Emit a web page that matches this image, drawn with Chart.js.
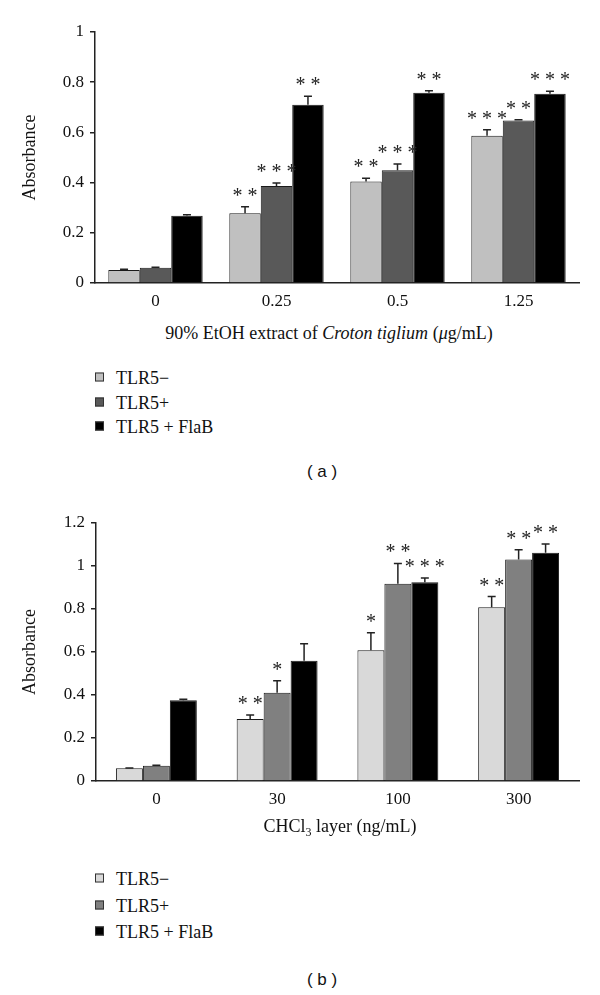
<!DOCTYPE html>
<html lang="en">
<head>
  <meta charset="UTF-8" />
  <title>TLR5 absorbance</title>
  <style>
    body {
      margin: 0;
      background: #fff;
      font-family: "Liberation Serif", serif;
      color: #111;
    }
    .page {
      position: relative;
      width: 600px;
      height: 995px;
    }
    .box {
      position: absolute;
      left: 0;
      width: 600px;
      height: 320px;
    }
    .xtitle {
      position: absolute;
      font-size: 18px;
      white-space: nowrap;
      transform: translate(-50%, -50%);
    }
    .legend {
      position: absolute;
      left: 95px;
      font-size: 18px;
    }
    .legend div {
      position: absolute;
      left: 0;
      white-space: nowrap;
      transform: translateY(-50%);
    }
    .legend span.sw {
      display: inline-block;
      width: 7px;
      height: 7px;
      border: 1px solid #333;
      margin-right: 12px;
      vertical-align: 2px;
    }
    .panel {
      position: absolute;
      font-family: "Liberation Sans", Arial, sans-serif;
      font-size: 17px;
      transform: translate(-50%, -50%);
    }
  </style>
  <script src="https://cdn.jsdelivr.net/npm/chart.js"></script>
</head>
<body>
<div class="page">
  <div class="box" style="top:0"><canvas id="chartA" width="600" height="320"></canvas></div>
  <div class="xtitle" style="left:329px; top:333px">90% EtOH extract of <i>Croton tiglium</i> (<i>μ</i>g/mL)</div>
  <div class="legend" style="top:0">
    <div style="top:378px"><span class="sw" style="background:#c0c0c0"></span>TLR5−</div>
    <div style="top:403px"><span class="sw" style="background:#595959"></span>TLR5+</div>
    <div style="top:427px"><span class="sw" style="background:#000"></span>TLR5 + FlaB</div>
  </div>
  <div class="panel" style="left:322px; top:472px">( a )</div>

  <div class="box" style="top:500px"><canvas id="chartB" width="600" height="320"></canvas></div>
  <div class="xtitle" style="left:340px; top:828px">CHCl<sub style="font-size:12px">3</sub> layer (ng/mL)</div>
  <div class="legend" style="top:0">
    <div style="top:879px"><span class="sw" style="background:#d9d9d9"></span>TLR5−</div>
    <div style="top:906px"><span class="sw" style="background:#808080"></span>TLR5+</div>
    <div style="top:932px"><span class="sw" style="background:#000"></span>TLR5 + FlaB</div>
  </div>
  <div class="panel" style="left:322px; top:980px">( b )</div>
</div>

<script>
  // (a) 90% EtOH extract
  const doseA = ['0', '0.25', '0.5', '1.25'];
  const negA = [0.052, 0.278, 0.404, 0.587];
  const negErrA = [0.003, 0.026, 0.013, 0.024];
  const posA = [0.061, 0.386, 0.449, 0.647];
  const posErrA = [0.002, 0.012, 0.025, 0.003];
  const flaA = [0.268, 0.710, 0.758, 0.754];
  const flaErrA = [0.004, 0.034, 0.008, 0.010];
  const starsNegA = ['', '**', '**', '***'];
  const starsPosA = ['', '***', '***', '**'];
  const starsFlaA = ['', '**', '**', '***'];
  const yTicksA = ['0', '0.2', '0.4', '0.6', '0.8', '1'];

  // (b) CHCl3 layer
  const doseB = ['0', '30', '100', '300'];
  const negB = [0.059, 0.288, 0.608, 0.808];
  const negErrB = [0.001, 0.019, 0.081, 0.050];
  const posB = [0.071, 0.410, 0.918, 1.030];
  const posErrB = [0.002, 0.056, 0.094, 0.046];
  const flaB = [0.376, 0.559, 0.924, 1.062];
  const flaErrB = [0.004, 0.079, 0.020, 0.040];
  const starsNegB = ['', '**', '*', '**'];
  const starsPosB = ['', '*', '**', '**'];
  const starsFlaB = ['', '', '***', '**'];
  const yTicksB = ['0', '0.2', '0.4', '0.6', '0.8', '1', '1.2'];

  Chart.defaults.font.family = '"Liberation Serif", serif';
  Chart.defaults.color = '#111';

  // error bars (upper half only) + significance stars
  const errorStars = {
    id: 'errorStars',
    afterDatasetsDraw(chart) {
      const ctx = chart.ctx;
      const y = chart.scales.y;
      ctx.save();
      chart.data.datasets.forEach((ds, i) => {
        const meta = chart.getDatasetMeta(i);
        meta.data.forEach((bar, j) => {
          const top = y.getPixelForValue(ds.data[j] + ds.errors[j]);
          ctx.strokeStyle = '#222';
          ctx.lineWidth = 1.5;
          ctx.beginPath();
          ctx.moveTo(bar.x, bar.y);
          ctx.lineTo(bar.x, top);
          ctx.moveTo(bar.x - 4, top);
          ctx.lineTo(bar.x + 4, top);
          ctx.stroke();
          const s = ds.stars[j];
          if (s) {
            ctx.fillStyle = '#222';
            ctx.font = '20px "Liberation Serif", serif';
            ctx.textAlign = 'center';
            ctx.textBaseline = 'alphabetic';
            ctx.fillText(s.split('').join(' '), bar.x, top - 5);
          }
        });
      });
      ctx.restore();
    }
  };

  function makeChart(id, labels, sets, ticks, yMax, catPct, plotTop, plotBottom, axisLeft) {
    return new Chart(document.getElementById(id), {
      type: 'bar',
      data: {
        labels: labels,
        datasets: sets.map(s => ({
          label: s.label,
          data: s.data,
          errors: s.errors,
          stars: s.stars,
          backgroundColor: s.color,
          borderColor: '#1a1a1a',
          borderWidth: 1,
          categoryPercentage: catPct,
          barPercentage: 1
        }))
      },
      options: {
        responsive: false,
        animation: false,
        layout: { padding: { top: plotTop, right: 21, left: 0, bottom: 0 } },
        plugins: { legend: { display: false }, tooltip: { enabled: false } },
        scales: {
          x: {
            grid: { display: false },
            border: { display: true, color: '#222', width: 1.5 },
            ticks: { font: { size: 17 }, padding: 0, color: '#111' },
            afterFit: s => { s.height = 320 - plotBottom; }
          },
          y: {
            min: 0,
            max: yMax,
            ticks: {
              stepSize: 0.2,
              font: { size: 17 },
              padding: 6,
              color: '#111',
              callback: (v, i) => ticks[i]
            },
            grid: { drawOnChartArea: false, drawTicks: true, tickLength: 5, color: '#222', lineWidth: 1.5 },
            border: { display: true, color: '#222', width: 1.5 },
            title: { display: true, text: 'Absorbance', font: { size: 18 }, padding: { top: 19 }, color: '#111' },
            afterFit: s => { s.width = axisLeft; }
          }
        }
      },
      plugins: [errorStars]
    });
  }

  makeChart('chartA', doseA, [
    { label: 'TLR5−', data: negA, errors: negErrA, stars: starsNegA, color: '#c0c0c0' },
    { label: 'TLR5+', data: posA, errors: posErrA, stars: starsPosA, color: '#595959' },
    { label: 'TLR5 + FlaB', data: flaA, errors: flaErrA, stars: starsFlaA, color: '#000000' }
  ], yTicksA, 1, 0.78, 32, 283, 95);

  makeChart('chartB', doseB, [
    { label: 'TLR5−', data: negB, errors: negErrB, stars: starsNegB, color: '#d9d9d9' },
    { label: 'TLR5+', data: posB, errors: posErrB, stars: starsPosB, color: '#808080' },
    { label: 'TLR5 + FlaB', data: flaB, errors: flaErrB, stars: starsFlaB, color: '#000000' }
  ], yTicksB, 1.2, 0.67, 23, 281, 96);
</script>
</body>
</html>
